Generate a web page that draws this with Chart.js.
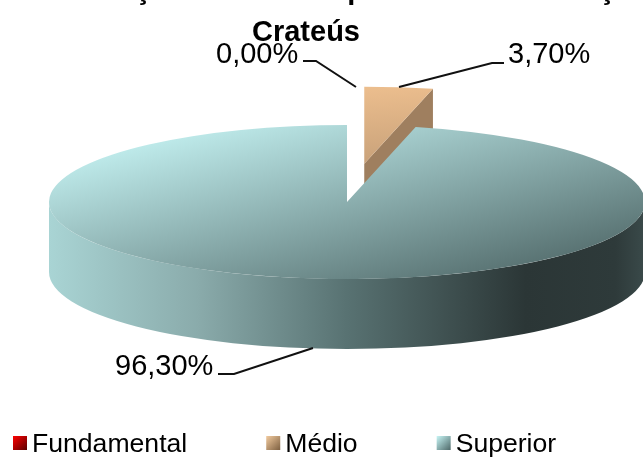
<!DOCTYPE html>
<html>
<head>
<meta charset="utf-8">
<style>
  html, body { margin: 0; padding: 0; background: #fff; overflow: hidden; }
</style>
<script src="https://cdn.jsdelivr.net/npm/chart.js@4"></script>
</head>
<body>
<canvas id="chart" width="643" height="457"></canvas>
<script>
const categories = ["Fundamental", "Médio", "Superior"];
const percents = [0.00, 3.70, 96.30];
const titleLines = ["Formação dos atores por nível de formação", "Crateús"];
// how far each slice is pulled out of the pie, as a share of the radius
const explode = [0, 0.5, 0];

const FONT = '"Liberation Sans", Arial, sans-serif';
const RADIUS = 298;
const SQUASH = 77 / 298;
const DEPTH = 70;
const CENTER = { x: 347, y: 202 };

function localGradient(chart, x0, y0, x1, y1, from, to) {
    const area = chart.chartArea;
    const cx = (area.left + area.right) / 2;
    const cy = (area.top + area.bottom) / 2;
    const g = chart.ctx.createLinearGradient(cx + x0, cy + y0, cx + x1, cy + y1);
    g.addColorStop(0, from);
    g.addColorStop(1, to);
    return g;
}

function sliceFill(c) {
    if (!c.chart.chartArea) return "#000";
    if (c.dataIndex === 0) return localGradient(c.chart, 0, -RADIUS, 60, 0, "#ff0000", "#800000");
    if (c.dataIndex === 1) return localGradient(c.chart, 0, -RADIUS, 75, -20, "#ecbe8e", "#c9a27a");
    return localGradient(c.chart, -210, -210, 210, 210, "#bde9e9", "#5a7474");
}

// offset of a slice on screen, from its middle angle
function sliceShift(arc, i) {
    const mid = (arc.startAngle + arc.endAngle) / 2;
    const d = explode[i] * RADIUS;
    return { x: Math.cos(mid) * d, y: Math.sin(mid) * d * SQUASH };
}

const pie3d = {
    id: "pie3d",
    beforeDatasetsDraw(chart) {
        const ctx = chart.ctx;
        const arcs = chart.getDatasetMeta(0).data;

        // cut face of the pulled out slice
        arcs.forEach((arc, i) => {
            if (!explode[i] || percents[i] === 0) return;
            const s = sliceShift(arc, i);
            const x0 = CENTER.x + s.x, y0 = CENTER.y + s.y;
            const x1 = x0 + Math.cos(arc.endAngle) * RADIUS;
            const y1 = y0 + Math.sin(arc.endAngle) * RADIUS * SQUASH;
            ctx.beginPath();
            ctx.moveTo(x0, y0);
            ctx.lineTo(x1, y1);
            ctx.lineTo(x1, y1 + DEPTH);
            ctx.lineTo(x0, y0 + DEPTH);
            ctx.closePath();
            ctx.fillStyle = "#9f7f5f";
            ctx.fill();
        });

        // front wall of the big slice
        const big = arcs[2];
        const wall = ctx.createLinearGradient(CENTER.x - RADIUS, 0, CENTER.x + RADIUS, 0);
        wall.addColorStop(0, "#a9d4d4");
        wall.addColorStop(0.25, "#8aabab");
        wall.addColorStop(0.5, "#587272");
        wall.addColorStop(0.8, "#2b3636");
        wall.addColorStop(0.95, "#2e3a3a");
        wall.addColorStop(1, "#3a4a4a");
        ctx.beginPath();
        ctx.ellipse(CENTER.x, CENTER.y, RADIUS, RADIUS * SQUASH, 0, 0, Math.PI, false);
        ctx.ellipse(CENTER.x, CENTER.y + DEPTH, RADIUS, RADIUS * SQUASH, 0, Math.PI, 0, true);
        ctx.closePath();
        ctx.fillStyle = wall;
        ctx.fill();

        // squash the flat pie into the tilted top face
        ctx.save();
        ctx.translate(CENTER.x, CENTER.y);
        ctx.scale(1, SQUASH);
        ctx.translate(-big.x, -big.y);

        arcs.forEach((arc, i) => {
            if (!explode[i] || arc.draw !== Chart.ArcElement.prototype.draw) return;
            const d = explode[i] * RADIUS;
            arc.draw = function (c) {
                const mid = (this.startAngle + this.endAngle) / 2;
                c.save();
                c.translate(Math.cos(mid) * d, Math.sin(mid) * d);
                Chart.ArcElement.prototype.draw.call(this, c);
                c.restore();
            };
        });
    },
    afterDatasetsDraw(chart) {
        const ctx = chart.ctx;
        ctx.restore();

        ctx.textBaseline = "alphabetic";
        ctx.fillStyle = "#000";

        // title, first line runs off the top like the original
        ctx.font = "bold 29px " + FONT;
        ctx.textAlign = "left";
        ctx.fillText(titleLines[0], 46, -1);
        ctx.textAlign = "center";
        ctx.fillText(titleLines[1], 306, 41);

        // value labels with leader lines
        const text = percents.map(v => v.toFixed(2).replace(".", ",") + "%");
        const labelSpots = [
            { i: 0, x: 216, y: 63, line: [[303, 61], [316, 61], [356, 87]] },
            { i: 1, x: 508, y: 63, line: [[504, 63], [492, 63], [399, 87]] },
            { i: 2, x: 115, y: 375, line: [[218, 374], [234, 374], [313, 348]] }
        ];
        ctx.font = "29px " + FONT;
        ctx.textAlign = "left";
        labelSpots.forEach(l => {
            ctx.fillStyle = "#000";
            ctx.fillText(text[l.i], l.x, l.y);
            ctx.beginPath();
            l.line.forEach((p, n) => n ? ctx.lineTo(p[0], p[1]) : ctx.moveTo(p[0], p[1]));
            ctx.strokeStyle = "#111";
            ctx.lineWidth = 2;
            ctx.stroke();
        });

        // legend
        const swatches = [["#ff0000", "#5a0000"], ["#f2cb9f", "#7d5f40"], ["#c8f6f6", "#4d6868"]];
        ctx.font = "26.6px " + FONT;
        let x = 13;
        categories.forEach((name, i) => {
            const g = ctx.createLinearGradient(x, 436, x + 14, 450);
            g.addColorStop(0, swatches[i][0]);
            g.addColorStop(1, swatches[i][1]);
            ctx.fillStyle = g;
            ctx.fillRect(x, 436, 14, 14);
            ctx.fillStyle = "#000";
            ctx.fillText(name, x + 19, 452);
            x += 20 + ctx.measureText(name).width + 78;
        });
    }
};

new Chart(document.getElementById("chart"), {
    type: "pie",
    data: {
        labels: categories,
        datasets: [{
            data: percents,
            backgroundColor: sliceFill,
            borderWidth: 0,
            radius: RADIUS,
            clip: false
        }]
    },
    options: {
        responsive: false,
        animation: false,
        plugins: {
            legend: { display: false },
            tooltip: { enabled: false }
        }
    },
    plugins: [pie3d]
});
</script>
</body>
</html>
